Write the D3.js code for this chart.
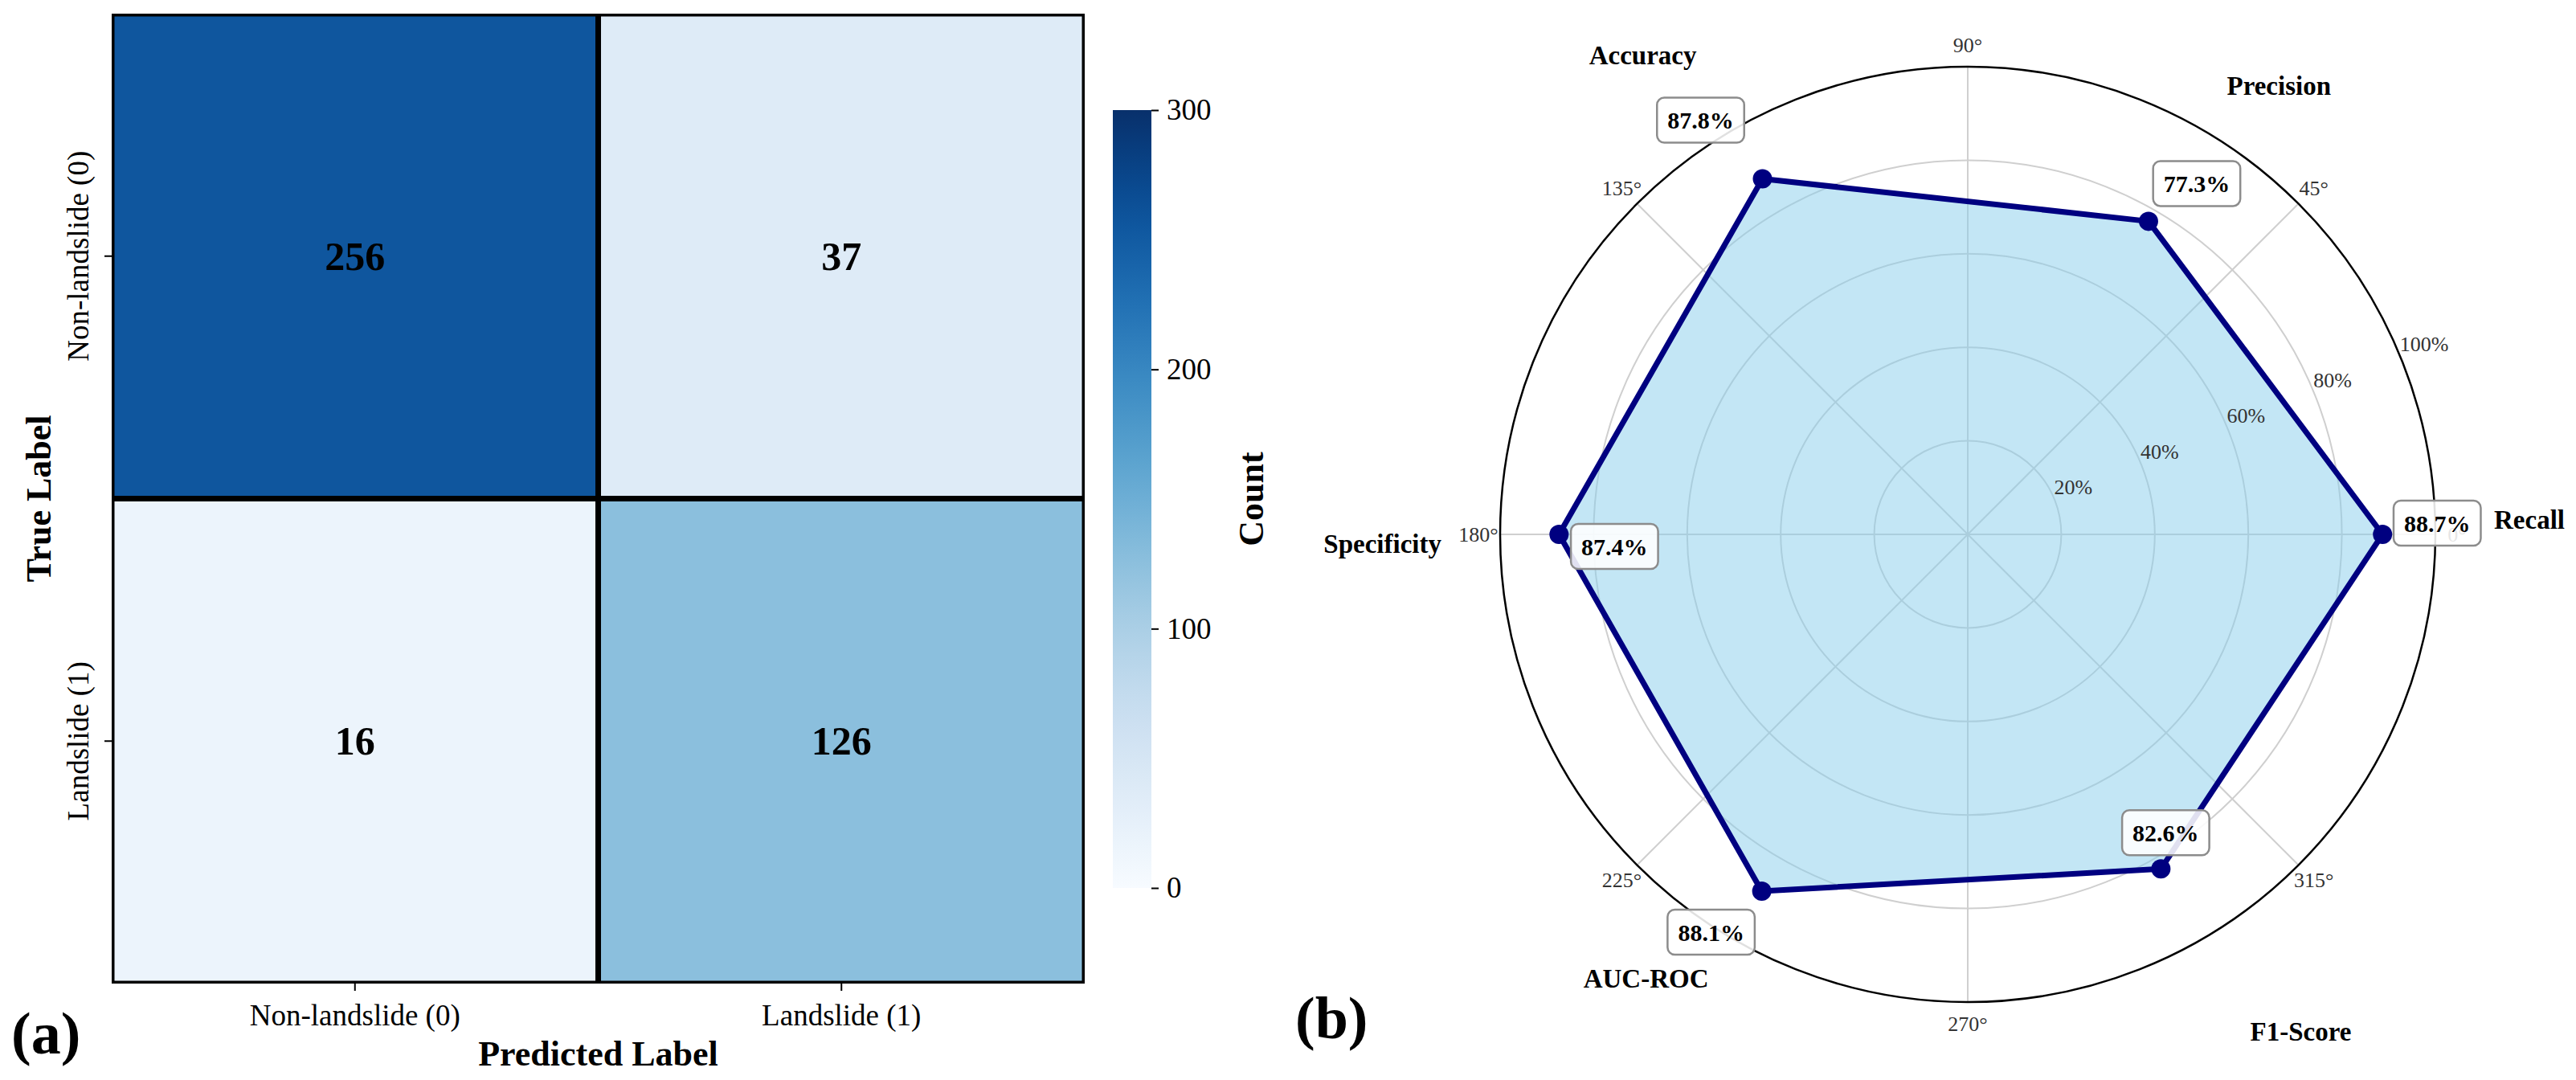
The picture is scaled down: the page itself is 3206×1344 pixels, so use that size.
<!DOCTYPE html>
<html><head><meta charset="utf-8">
<script src="https://cdn.jsdelivr.net/npm/d3@7"></script>
<style>
body{margin:0;background:#fff}
text{font-family:"Liberation Serif","Times New Roman",serif}
</style>
</head><body>
<svg id="chart" width="3206" height="1344"></svg>
<script>
// ---------------- data ----------------
const predictedLabels = ["Non-landslide (0)", "Landslide (1)"];
const trueLabels = ["Non-landslide (0)", "Landslide (1)"];
const confusionRow0 = [256, 37];
const confusionRow1 = [16, 126];
const colorbarTicks = [0, 100, 200, 300];
const colorDomain = [0, 300];

const metricNames = ["Recall", "Precision", "Accuracy", "Specificity", "AUC-ROC", "F1-Score"];
const metricValues = [88.7, 77.3, 87.8, 87.4, 88.1, 82.6];
const radialTicks = [20, 40, 60, 80, 100];
const angleTicks = [0, 45, 90, 135, 180, 225, 270, 315];

// ---------------- layout (not data) ----------------
const valueBoxOffsets = [[68,-14],[60,-47],[-77,-73],[69,15],[-63,51],[6,-45]];
const nameNudges = [[0,-18],[-5,9],[-10,-29],[0,12],[5,-14],[24,52]];

const svg = d3.select("#chart");
const serif = '"Liberation Serif","Times New Roman",serif';

// =============== (a) confusion matrix ===============
const hm = {left:139, right:1350, top:17, bottom:1224};
const x = d3.scaleBand().domain(predictedLabels).range([hm.left, hm.right]);
const y = d3.scaleBand().domain(trueLabels).range([hm.top, hm.bottom]);
const color = d3.scaleSequential(d3.interpolateBlues).domain(colorDomain);

const cells = [];
[confusionRow0, confusionRow1].forEach((row, ri) => row.forEach((v, ci) =>
  cells.push({t: trueLabels[ri], p: predictedLabels[ci], v})));

svg.append("clipPath").attr("id","hmclip").append("rect")
  .attr("x",hm.left).attr("y",hm.top).attr("width",hm.right-hm.left).attr("height",hm.bottom-hm.top);

const gH = svg.append("g").attr("clip-path","url(#hmclip)");
gH.selectAll("rect").data(cells).join("rect")
  .attr("x", d => x(d.p)).attr("y", d => y(d.t))
  .attr("width", x.bandwidth()).attr("height", y.bandwidth())
  .attr("fill", d => color(d.v))
  .attr("stroke", "#000").attr("stroke-width", 7);

svg.append("g").selectAll("text").data(cells).join("text")
  .attr("x", d => x(d.p) + x.bandwidth()/2)
  .attr("y", d => y(d.t) + y.bandwidth()/2)
  .attr("text-anchor","middle").attr("dominant-baseline","central")
  .attr("font-size", 50).attr("font-weight","bold").attr("fill","#000")
  .text(d => d.v);

// x axis
const gx = svg.append("g").attr("transform",`translate(0,${hm.bottom})`)
  .call(d3.axisBottom(x).tickSize(9).tickPadding(17));
gx.select(".domain").remove();
gx.selectAll("line").attr("stroke","#000").attr("stroke-width",2);
gx.selectAll("text").attr("font-size",37).attr("font-family",serif).attr("fill","#000");

// y axis (rotated labels)
const gy = svg.append("g").attr("transform",`translate(${hm.left},0)`)
  .call(d3.axisLeft(y).tickSize(9));
gy.select(".domain").remove();
gy.selectAll("line").attr("stroke","#000").attr("stroke-width",2);
gy.selectAll("text").attr("font-size",37).attr("font-family",serif).attr("fill","#000")
  .attr("x",0).attr("dy",null).attr("text-anchor","middle")
  .attr("transform","translate(-29,0) rotate(-90)");

svg.append("text").attr("x",(hm.left+hm.right)/2).attr("y",1326)
  .attr("text-anchor","middle").attr("font-size",44).attr("font-weight","bold")
  .text("Predicted Label");
svg.append("text").attr("transform",`translate(63,${(hm.top+hm.bottom)/2}) rotate(-90)`)
  .attr("text-anchor","middle").attr("font-size",44).attr("font-weight","bold")
  .text("True Label");

// colorbar
const cb = {x:1385, w:48, top:137, bottom:1105};
const cbScale = d3.scaleLinear().domain(colorDomain).range([cb.bottom, cb.top]);
const grad = svg.append("defs").append("linearGradient").attr("id","cbgrad")
  .attr("x1",0).attr("y1",1).attr("x2",0).attr("y2",0);
d3.range(0,1.0001,0.05).forEach(t => grad.append("stop")
  .attr("offset",t).attr("stop-color", color(colorDomain[0] + t*(colorDomain[1]-colorDomain[0]))));
svg.append("rect").attr("x",cb.x).attr("y",cb.top).attr("width",cb.w).attr("height",cb.bottom-cb.top)
  .attr("fill","url(#cbgrad)");
const gcb = svg.append("g").attr("transform",`translate(${cb.x+cb.w},0)`)
  .call(d3.axisRight(cbScale).tickValues(colorbarTicks).tickSize(9).tickPadding(10));
gcb.select(".domain").remove();
gcb.selectAll("line").attr("stroke","#000").attr("stroke-width",2);
gcb.selectAll("text").attr("font-size",37).attr("font-family",serif).attr("fill","#000");
svg.append("text").attr("transform",`translate(1572,621) rotate(-90)`)
  .attr("text-anchor","middle").attr("font-size",44).attr("font-weight","bold").text("Count");

svg.append("text").attr("x",14).attr("y",1311).attr("font-size",74).attr("font-weight","bold").text("(a)");

// =============== (b) radar ===============
const cx = 2449, cy = 665, R = 582;
const r = d3.scaleLinear().domain([0,100]).range([0,R]);
const n = metricNames.length;
const theta = i => i * 2*Math.PI / n;          // math angle, ccw from east
const px = (a, rr) => rr*Math.cos(a);
const py = (a, rr) => -rr*Math.sin(a);
const g = svg.append("g").attr("transform",`translate(${cx},${cy})`);

g.selectAll("circle.ring").data(radialTicks.slice(0,-1)).join("circle").attr("class","ring")
  .attr("r", d => r(d)).attr("fill","none").attr("stroke","#cfcfcf").attr("stroke-width",2);
g.selectAll("line.spoke").data(angleTicks).join("line").attr("class","spoke")
  .attr("x1",0).attr("y1",0)
  .attr("x2", d => px(d*Math.PI/180, r(100))).attr("y2", d => py(d*Math.PI/180, r(100)))
  .attr("stroke","#cfcfcf").attr("stroke-width",2);
g.append("circle").attr("r", r(100)).attr("fill","none").attr("stroke","#000").attr("stroke-width",2.5);

// angular tick labels
g.selectAll("text.ang").data(angleTicks).join("text").attr("class","ang")
  .attr("x", d => px(d*Math.PI/180, R+27)).attr("y", d => py(d*Math.PI/180, R+27))
  .attr("text-anchor","middle").attr("dominant-baseline","central")
  .attr("font-size",26).attr("fill","#333").text(d => d + "°");

// polygon
const radial = d3.lineRadial()
  .angle((d,i) => Math.PI/2 - theta(i))
  .radius(d => r(d))
  .curve(d3.curveLinearClosed);
g.append("path").datum(metricValues).attr("d", radial)
  .attr("fill","#87ceeb").attr("fill-opacity",0.5)
  .attr("stroke","#000080").attr("stroke-width",7).attr("stroke-linejoin","round");

// radial tick labels
const rlAng = 22.5*Math.PI/180;
g.selectAll("text.rl").data(radialTicks).join("text").attr("class","rl")
  .attr("x", d => px(rlAng, r(d))).attr("y", d => py(rlAng, r(d)) - 5)
  .attr("font-size",26).attr("fill","#333").text(d => d + "%");

g.selectAll("circle.pt").data(metricValues).join("circle").attr("class","pt")
  .attr("cx",(d,i) => px(theta(i), r(d))).attr("cy",(d,i) => py(theta(i), r(d)))
  .attr("r",12).attr("fill","#000080");

// value boxes
const boxes = g.selectAll("g.vb").data(metricValues).join("g").attr("class","vb")
  .attr("transform",(d,i) => `translate(${px(theta(i), r(d)) + valueBoxOffsets[i][0]},${py(theta(i), r(d)) + valueBoxOffsets[i][1]})`);
boxes.append("rect");
boxes.append("text").attr("text-anchor","middle").attr("dominant-baseline","central")
  .attr("font-size",30).attr("font-weight","bold").attr("fill","#000")
  .text(d => d.toFixed(1) + "%");
boxes.each(function(){
  const t = d3.select(this).select("text").node().getBBox();
  d3.select(this).select("rect")
    .attr("x", t.x - 13).attr("y", -28).attr("width", t.width + 26).attr("height", 56)
    .attr("rx",9).attr("fill","#fff").attr("fill-opacity",0.88)
    .attr("stroke","#8c8c8c").attr("stroke-width",2.5);
});

// metric names
const labR = R + 73;
g.selectAll("text.nm").data(metricNames).join("text").attr("class","nm")
  .attr("x",(d,i) => px(theta(i), labR) + nameNudges[i][0])
  .attr("y",(d,i) => py(theta(i), labR) + nameNudges[i][1])
  .attr("text-anchor",(d,i) => { const c = Math.cos(theta(i)); return c > 0.3 ? "start" : (c < -0.3 ? "end" : "middle"); })
  .attr("dominant-baseline","central")
  .attr("font-size",33).attr("font-weight","bold").attr("fill","#000").text(d => d);

svg.append("text").attr("x",1612).attr("y",1292).attr("font-size",74).attr("font-weight","bold").text("(b)");
</script>
</body></html>
